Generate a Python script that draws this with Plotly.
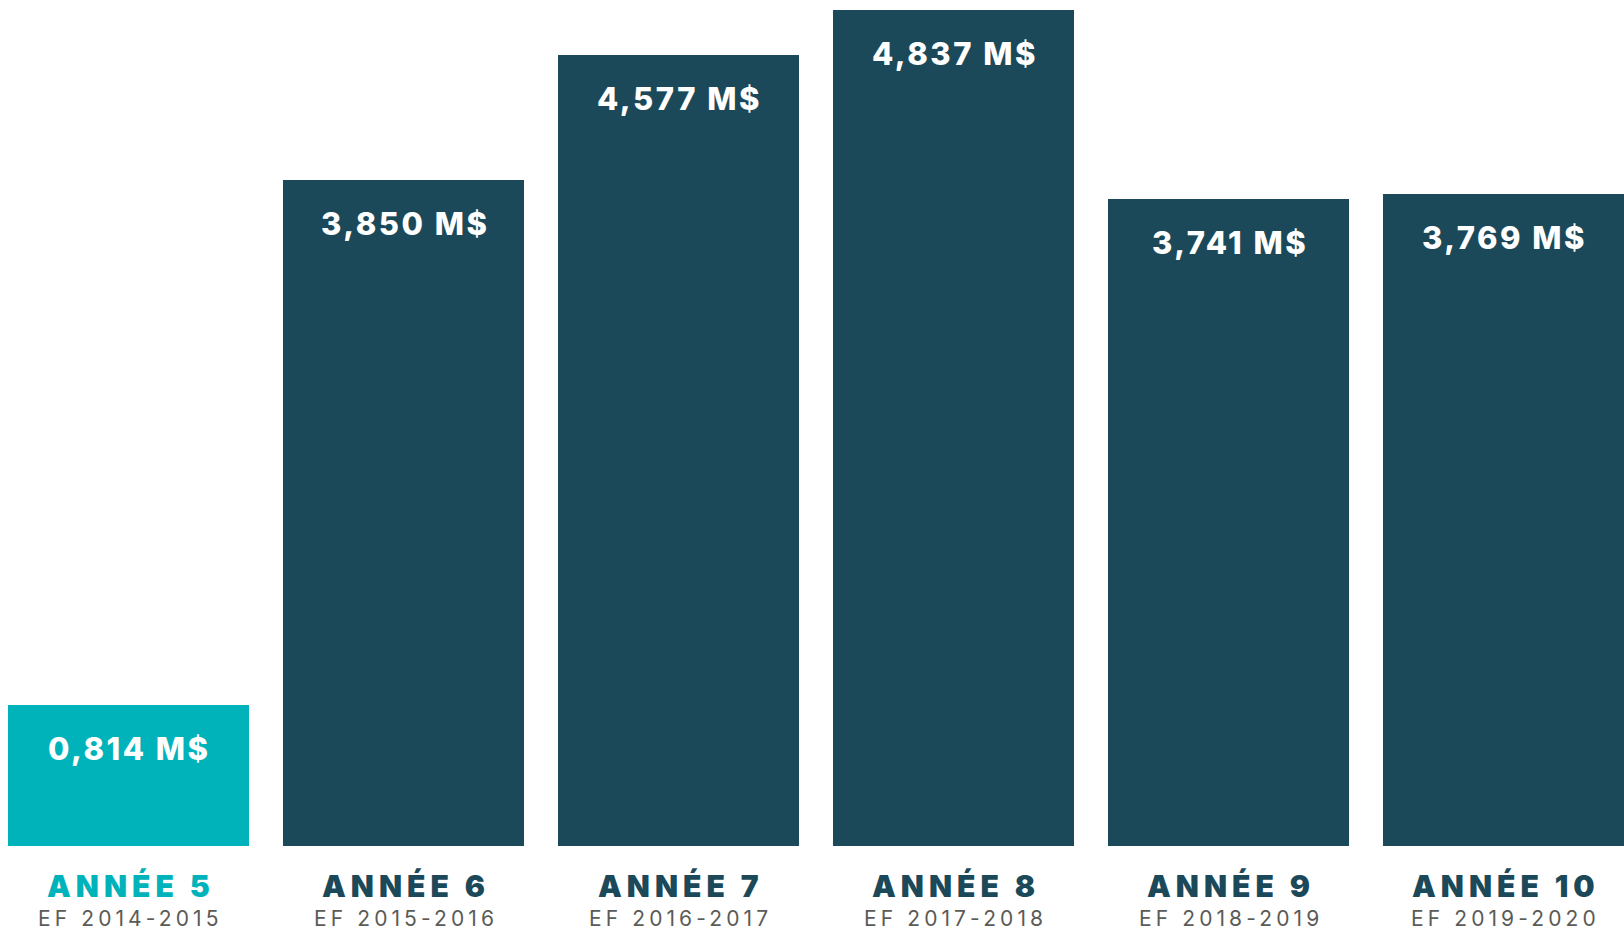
import plotly.graph_objects as go

years = ["ANNÉE 5", "ANNÉE 6", "ANNÉE 7", "ANNÉE 8", "ANNÉE 9", "ANNÉE 10"]
fiscal = ["EF 2014-2015", "EF 2015-2016", "EF 2016-2017", "EF 2017-2018", "EF 2018-2019", "EF 2019-2020"]
values = [0.814, 3.850, 4.577, 4.837, 3.741, 3.769]
value_labels = ["0,814 M$", "3,850 M$", "4,577 M$", "4,837 M$", "3,741 M$", "3,769 M$"]

TEAL = "#00B3BA"
DARK = "#1C4959"
GRAY = "#5B5B57"
colors = [TEAL] + [DARK] * (len(values) - 1)
FONT = "Inter"


def spaced(txt, px):
    return f'<span style="letter-spacing:{px}px">{txt}</span>'


xs = list(range(len(values)))
fig = go.Figure(go.Bar(x=xs, y=values, marker=dict(color=colors, line=dict(width=0)),
                       width=0.876, hoverinfo="skip"))

ann = []
for i, (v, lab) in enumerate(zip(values, value_labels)):
    ann.append(dict(x=i, y=v, xref="x", yref="y", text=spaced(lab, 2.5), showarrow=False,
                    yanchor="top", yshift=-23, xshift=1,
                    font=dict(family=FONT, size=31, color="white", weight=800)))
    ann.append(dict(x=i, y=0, xref="x", yref="y", text=spaced(years[i], 5), showarrow=False,
                    yanchor="top", yshift=-20, xshift=2,
                    font=dict(family=FONT, size=30, color=colors[i], weight=900)))
    ann.append(dict(x=i, y=0, xref="x", yref="y", text=spaced(fiscal[i], 4.1), showarrow=False,
                    yanchor="top", yshift=-58, xshift=2,
                    font=dict(family=FONT, size=21, color=GRAY, weight=400)))

fig.update_layout(
    width=1624, height=930,
    margin=dict(l=0, r=0, t=0, b=84, pad=0),
    paper_bgcolor="white", plot_bgcolor="white",
    showlegend=False,
    xaxis=dict(range=[-0.4673, 5.4382], visible=False, fixedrange=True),
    yaxis=dict(range=[0, 4.893], visible=False, fixedrange=True),
    annotations=ann,
    bargap=0,
)
fig.write_html("out.html", config={"displayModeBar": False})
